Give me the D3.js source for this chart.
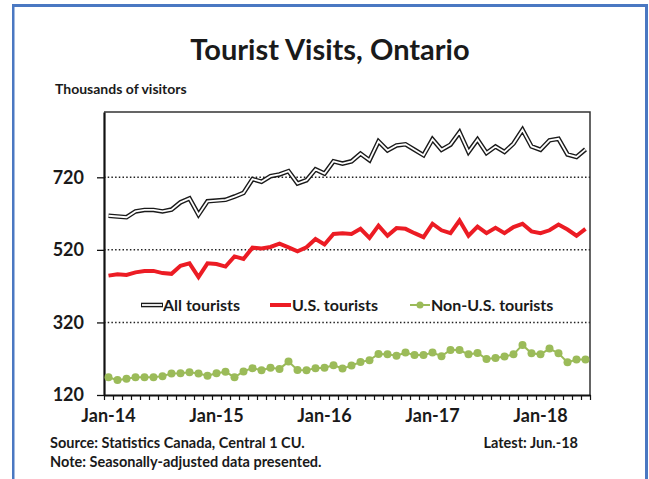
<!DOCTYPE html>
<html>
<head>
<meta charset="utf-8">
<script src="https://cdn.jsdelivr.net/npm/d3@7"></script>
<style>
  body { margin: 0; background: #fff; }
  text { font-family: Lato, "Open Sans", sans-serif; font-weight: bold; fill: #1a1a1a; }
</style>
</head>
<body>
<svg id="chart" width="649" height="479"></svg>
<script>
// monthly values, Jan-14 .. Jun-18 (thousands of visitors)
var allTourists = [614,612,610,626,630,630,626,631,651,662,617,654,656,658,667,677,715,708,723,
  728,737,703,712,742,730,764,758,764,785,767,819,794,808,811,796,781,825,
  796,810,844,790,824,787,805,790,813,851,805,796,822,826,783,776,797]
var usTourists = [449,453,451,458,462,462,456,454,476,483,445,483,481,474,502,495,526,
  524,528,537,527,516,527,550,535,564,566,564,578,553,587,559,580,578,566,
  555,592,574,566,601,559,584,566,581,566,583,592,571,566,574,590,576,559,578]
var nonUsTourists = [169,161,165,169,169,169,172,179,180,183,179,173,180,184,169,185,194,188,195,192,212,189,188,194,195,202,
  193,201,211,216,233,232,228,237,230,230,237,227,244,244,232,236,219,222,226,232,258,235,232,248,235,210,218,218]

var yTicks = [120, 320, 520, 720]
var xLabels = ["Jan-14", "Jan-15", "Jan-16", "Jan-17", "Jan-18"]
var xLabelIdx = [0, 12, 24, 36, 48]
var seriesNames = ["All tourists", "U.S. tourists", "Non-U.S. tourists"]

var svg = d3.select("#chart")
var plotL = 104, plotR = 590, plotT = 112, plotB = 395
var blue = "#4a78c2", red = "#ec1c24", green = "#9bbb59"

// outer frame
svg.append("rect").attr("x", 13).attr("y", 4).attr("width", 635).attr("height", 3).attr("fill", blue)
svg.append("rect").attr("x", 12).attr("y", 4).attr("width", 2.5).attr("height", 475).attr("fill", blue)
svg.append("rect").attr("x", 645).attr("y", 4).attr("width", 3).attr("height", 475).attr("fill", blue)

var x = d3.scaleBand().domain(d3.range(allTourists.length)).range([plotL, plotR])
var xc = function(i) { return x(i) + x.bandwidth() / 2 }
var xEdge = d3.scaleLinear().domain([0, allTourists.length]).range([plotL, plotR])
var y = d3.scaleLinear().domain([120, 900]).range([plotB, plotT])

// dotted gridlines
svg.selectAll(".grid")
    .data(yTicks.slice(1))
    .enter()
    .append("line")
      .attr("x1", plotL).attr("x2", plotR)
      .attr("y1", d => y(d)).attr("y2", d => y(d))
      .attr("stroke", "#222")
      .attr("stroke-width", 1.5)
      .attr("stroke-dasharray", "1.5,2.2")

// plot area border (top + right)
svg.append("path")
    .attr("d", "M" + plotL + "," + y(900) + "H" + plotR + "V" + plotB)
    .attr("fill", "none").attr("stroke", "#333").attr("stroke-width", 1.5)

// axes
var yAxis = svg.append("g")
    .attr("transform", "translate(" + plotL + ",0)")
    .call(d3.axisLeft(y).tickValues(yTicks).tickSize(7).tickSizeOuter(0).tickPadding(13))
var xAxis = svg.append("g")
    .attr("transform", "translate(0," + plotB + ")")
    .call(d3.axisBottom(xEdge).tickValues(d3.range(allTourists.length + 1)).tickSize(5).tickSizeOuter(0).tickFormat(""))
yAxis.select(".domain").attr("stroke", "#111").attr("stroke-width", 2.2)
xAxis.select(".domain").attr("stroke", "#111").attr("stroke-width", 2.2)
yAxis.selectAll(".tick line").attr("stroke", "#111").attr("stroke-width", 1.3)
xAxis.selectAll(".tick line").attr("stroke", "#111").attr("stroke-width", 1.2)
yAxis.selectAll(".tick text")
    .style("font-family", "Lato, sans-serif").style("font-weight", "bold")
    .style("font-size", "18px").attr("fill", "#1a1a1a")

svg.selectAll(".xlab")
    .data(xLabels)
    .enter()
    .append("text")
      .attr("x", (d, i) => xc(xLabelIdx[i]))
      .attr("y", 422)
      .attr("text-anchor", "middle")
      .style("font-size", "18px")
      .text(d => d)

// lines
var line = d3.line().x((d, i) => xc(i)).y(d => y(d))

svg.append("path").datum(allTourists).attr("d", line)
    .attr("fill", "none").attr("stroke", "#1a1a1a").attr("stroke-width", 4.6)
svg.append("path").datum(allTourists).attr("d", line)
    .attr("fill", "none").attr("stroke", "#fff").attr("stroke-width", 1.8)

svg.append("path").datum(usTourists).attr("d", line)
    .attr("fill", "none").attr("stroke", red).attr("stroke-width", 4)

svg.append("path").datum(nonUsTourists).attr("d", line)
    .attr("fill", "none").attr("stroke", green).attr("stroke-width", 2)
svg.selectAll(".dot")
    .data(nonUsTourists)
    .enter()
    .append("circle")
      .attr("cx", (d, i) => xc(i))
      .attr("cy", d => y(d))
      .attr("r", 4)
      .attr("fill", green)

// legend
var legX = [141, 270, 410]
var leg = svg.selectAll(".leg")
    .data(seriesNames)
    .enter()
    .append("g")
      .attr("transform", (d, i) => "translate(" + legX[i] + ",305)")
leg.filter((d, i) => i == 0).append("line").attr("x2", 22).attr("stroke", "#1a1a1a").attr("stroke-width", 4.6)
leg.filter((d, i) => i == 0).append("line").attr("x1", 1).attr("x2", 21).attr("stroke", "#fff").attr("stroke-width", 1.8)
leg.filter((d, i) => i == 1).append("line").attr("x2", 21).attr("stroke", red).attr("stroke-width", 4)
leg.filter((d, i) => i == 2).append("line").attr("x2", 20).attr("stroke", green).attr("stroke-width", 2)
leg.filter((d, i) => i == 2).append("circle").attr("cx", 10).attr("r", 3.5).attr("fill", green)
leg.append("text")
    .attr("x", (d, i) => i == 2 ? 21 : 22)
    .attr("y", 5.5)
    .style("font-size", "16px")
    .text(d => d)

// titles and notes
svg.append("text").attr("x", 330).attr("y", 60).attr("text-anchor", "middle")
    .style("font-size", "29px").text("Tourist Visits, Ontario")
svg.append("text").attr("x", 55).attr("y", 94).style("font-size", "14px").text("Thousands of visitors")
svg.append("text").attr("x", 50).attr("y", 448).style("font-size", "14.5px").text("Source: Statistics Canada, Central 1 CU.")
svg.append("text").attr("x", 50).attr("y", 467).style("font-size", "14.5px").text("Note: Seasonally-adjusted data presented.")
svg.append("text").attr("x", 578).attr("y", 448).attr("text-anchor", "end").style("font-size", "14.5px").text("Latest: Jun.-18")
</script>
</body>
</html>
